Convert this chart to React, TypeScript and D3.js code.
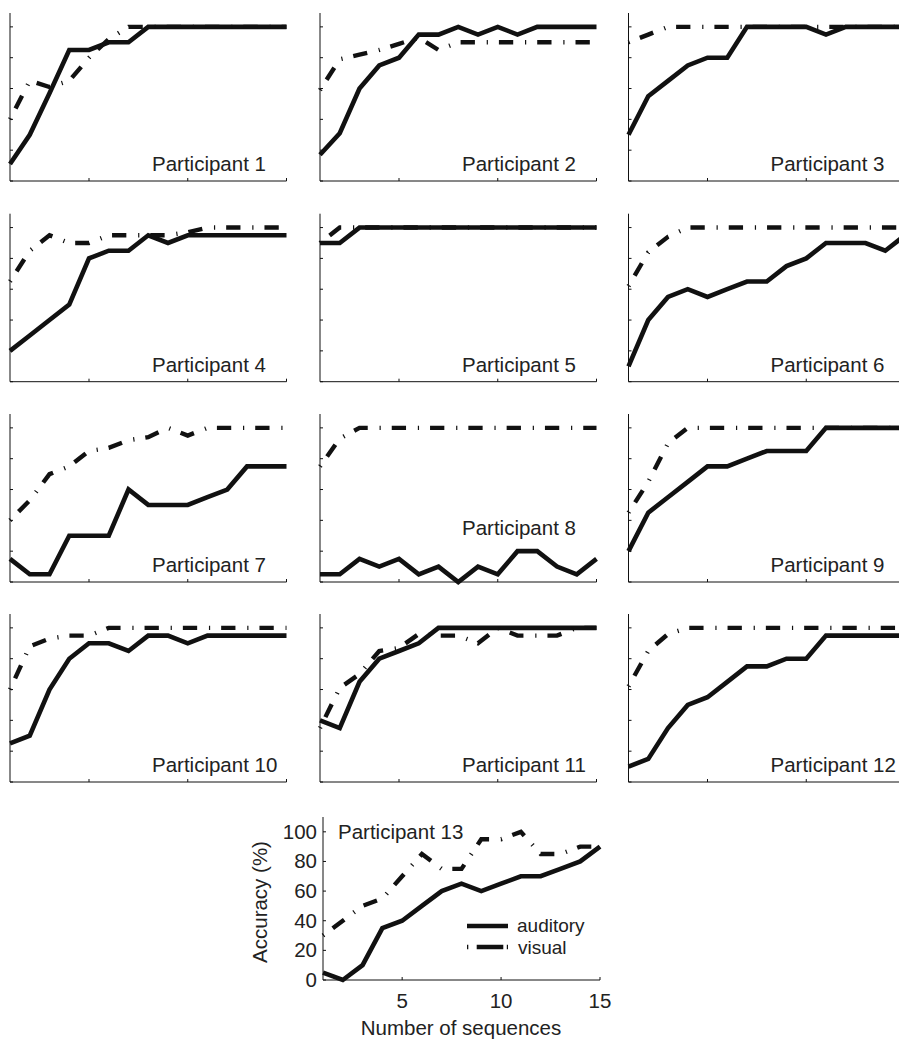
import React from 'react';
import * as d3 from 'd3';

// ---- data ----
const sequences = [1, 2, 3, 4, 5, 6, 7, 8, 9, 10, 11, 12, 13, 14, 15];
const yTicks = [0, 20, 40, 60, 80, 100];
const xTicks = [5, 10, 15];
const yTickLabels = ['0', '20', '40', '60', '80', '100'];
const xTickLabels = ['5', '10', '15'];
const seriesNames = ['auditory', 'visual'];

const p1Auditory = [11, 30, 57, 85, 85, 90, 90, 100, 100, 100, 100, 100, 100, 100, 100];
const p1Visual = [40, 65, 61, 65, 80, 92, 100, 100, 100, 100, 100, 100, 100, 100, 100];
const p2Auditory = [17, 31, 60, 75, 80, 95, 95, 100, 95, 100, 95, 100, 100, 100, 100];
const p2Visual = [59, 79, 82, 85, 89, 93, 85, 90, 90, 90, 90, 90, 90, 90, 90];
const p3Auditory = [30, 55, 65, 75, 80, 80, 100, 100, 100, 100, 95, 100, 100, 100, 100];
const p3Visual = [90, 95, 100, 100, 100, 100, 100, 100, 100, 100, 100, 100, 100, 100, 100];
const p4Auditory = [20, 30, 40, 50, 80, 85, 85, 95, 90, 95, 95, 95, 95, 95, 95];
const p4Visual = [65, 85, 95, 90, 90, 95, 95, 95, 95, 97, 100, 100, 100, 100, 100];
const p5Auditory = [90, 90, 100, 100, 100, 100, 100, 100, 100, 100, 100, 100, 100, 100, 100];
const p5Visual = [90, 100, 100, 100, 100, 100, 100, 100, 100, 100, 100, 100, 100, 100, 100];
const p6Auditory = [10, 40, 55, 60, 55, 60, 65, 65, 75, 80, 90, 90, 90, 85, 95];
const p6Visual = [62, 84, 94, 100, 100, 100, 100, 100, 100, 100, 100, 100, 100, 100, 100];
const p7Auditory = [15, 5, 5, 30, 30, 30, 60, 50, 50, 50, 55, 60, 75, 75, 75];
const p7Visual = [40, 53, 70, 75, 85, 87, 92, 94, 100, 95, 100, 100, 100, 100, 100];
const p8Auditory = [5, 5, 15, 10, 15, 5, 10, 0, 10, 5, 20, 20, 10, 5, 15];
const p8Visual = [75, 93, 100, 100, 100, 100, 100, 100, 100, 100, 100, 100, 100, 100, 100];
const p9Auditory = [20, 45, 55, 65, 75, 75, 80, 85, 85, 85, 100, 100, 100, 100, 100];
const p9Visual = [45, 65, 90, 100, 100, 100, 100, 100, 100, 100, 100, 100, 100, 100, 100];
const p10Auditory = [25, 30, 60, 80, 90, 90, 85, 95, 95, 90, 95, 95, 95, 95, 95];
const p10Visual = [60, 88, 93, 95, 95, 100, 100, 100, 100, 100, 100, 100, 100, 100, 100];
const p11Auditory = [40, 35, 65, 80, 85, 90, 100, 100, 100, 100, 100, 100, 100, 100, 100];
const p11Visual = [35, 61, 70, 85, 87, 96, 95, 95, 90, 100, 95, 95, 95, 100, 100];
const p12Auditory = [10, 15, 35, 50, 55, 65, 75, 75, 80, 80, 95, 95, 95, 95, 95];
const p12Visual = [62, 85, 96, 100, 100, 100, 100, 100, 100, 100, 100, 100, 100, 100, 100];
const p13Auditory = [5, 0, 10, 35, 40, 50, 60, 65, 60, 65, 70, 70, 75, 80, 90];
const p13Visual = [30, 40, 50, 55, 70, 85, 75, 75, 95, 95, 100, 85, 85, 90, 90];

const participantNames = [
  'Participant 1', 'Participant 2', 'Participant 3', 'Participant 4',
  'Participant 5', 'Participant 6', 'Participant 7', 'Participant 8',
  'Participant 9', 'Participant 10', 'Participant 11', 'Participant 12',
];
const auditorySeries = [p1Auditory, p2Auditory, p3Auditory, p4Auditory, p5Auditory, p6Auditory,
  p7Auditory, p8Auditory, p9Auditory, p10Auditory, p11Auditory, p12Auditory];
const visualSeries = [p1Visual, p2Visual, p3Visual, p4Visual, p5Visual, p6Visual,
  p7Visual, p8Visual, p9Visual, p10Visual, p11Visual, p12Visual];

// ---- layout / style ----
const W = 899;
const H = 1040;
const colLefts = [10, 320, 628.5];
const rowBottoms = [181, 381.7, 582, 782];
const PW = 276.5;
const PH = 168;
const FONT = '"Liberation Sans", Arial, Helvetica, sans-serif';
const FS = 20.5;
const LEGEND_FS = 19;
const INK = '#111';
const TXT = '#222';
const DASHDOT = '1.2 11 14.3 11.8';
const SOLID_W = 4.6;
const DASH_W = 4.4;

type PanelProps = {
  left: number; bottom: number; width: number; height: number; yMax: number;
  auditory: number[]; visual: number[];
};

function usePanelScales(p: PanelProps) {
  const x = d3.scaleLinear().domain([1, 15]).range([p.left, p.left + p.width]);
  const y = d3.scaleLinear().domain([0, p.yMax]).range([p.bottom, p.bottom - p.height]);
  return { x, y };
}

function Axes({ x, y, bottom, left, top, right }: any) {
  return (
    <g stroke={INK} strokeWidth={1} fill="none">
      <line x1={left} y1={top} x2={left} y2={bottom} />
      <line x1={left} y1={bottom} x2={right} y2={bottom} />
      {yTicks.map((t) => (
        <line key={'y' + t} x1={left} x2={left + 3} y1={y(t)} y2={y(t)} />
      ))}
      {xTicks.map((t) => (
        <line key={'x' + t} x1={x(t)} x2={x(t)} y1={bottom} y2={bottom - 3} />
      ))}
    </g>
  );
}

function Lines({ x, y, auditory, visual }: any) {
  const line = d3
    .line<number>()
    .x((_, i) => x(sequences[i]))
    .y((d) => y(d));
  return (
    <g fill="none" stroke={INK}>
      <path d={line(auditory) || ''} strokeWidth={SOLID_W} strokeLinejoin="miter" strokeMiterlimit={3} />
      <path d={line(visual) || ''} strokeWidth={DASH_W} strokeDasharray={DASHDOT} strokeLinejoin="miter" strokeMiterlimit={3} />
    </g>
  );
}

function SmallPanel({ idx }: { idx: number }) {
  const r = Math.floor(idx / 3);
  const c = idx % 3;
  const left = colLefts[c];
  const bottom = rowBottoms[r];
  const props: PanelProps = {
    left, bottom, width: PW, height: PH, yMax: 109,
    auditory: auditorySeries[idx], visual: visualSeries[idx],
  };
  const { x, y } = usePanelScales(props);
  const lift = idx === 7 ? 47 : 10;
  return (
    <g>
      <Axes x={x} y={y} left={left} right={left + PW} bottom={bottom} top={bottom - PH} />
      <Lines x={x} y={y} auditory={props.auditory} visual={props.visual} />
      <text x={left + 142} y={bottom - lift} fontSize={FS} fill={TXT} fontFamily={FONT}>
        {participantNames[idx]}
      </text>
    </g>
  );
}

function BigPanel() {
  const left = 323;
  const right = 600;
  const bottom = 980;
  const top = 817;
  const x = d3.scaleLinear().domain([1, 15]).range([left, right]);
  const y = d3.scaleLinear().domain([0, 110]).range([bottom, top]);
  return (
    <g>
      <Axes x={x} y={y} left={left} right={right} bottom={bottom} top={top} />
      <Lines x={x} y={y} auditory={p13Auditory} visual={p13Visual} />
      <g fontFamily={FONT} fontSize={FS} fill={TXT}>
        {yTicks.map((t, i) => (
          <text key={'yl' + t} x={left - 6} y={y(t) + 7} textAnchor="end">
            {yTickLabels[i]}
          </text>
        ))}
        {xTicks.map((t, i) => (
          <text key={'xl' + t} x={x(t)} y={bottom + 28} textAnchor="middle">
            {xTickLabels[i]}
          </text>
        ))}
        <text x={461} y={1035} textAnchor="middle">Number of sequences</text>
        <text transform="translate(267,902) rotate(-90)" textAnchor="middle">Accuracy (%)</text>
        <text x={338} y={839}>Participant 13</text>
      </g>
      <g fontFamily={FONT} fontSize={LEGEND_FS} fill={TXT}>
        <text x={517} y={932}>{seriesNames[0]}</text>
        <text x={518} y={954}>{seriesNames[1]}</text>
      </g>
      <line x1={467} x2={508} y1={926} y2={926} stroke={INK} strokeWidth={SOLID_W} />
      <line x1={467} x2={508} y1={947} y2={947} stroke={INK} strokeWidth={DASH_W}
        strokeDasharray="1.3 8.4 26.6 3.5 1.3 20" />
    </g>
  );
}

export default function App() {
  return (
    <svg
      width={W}
      height={H}
      viewBox={`0 0 ${W} ${H}`}
      style={{ position: 'absolute', left: 0, top: 0, background: '#fff' }}
    >
      <rect x={0} y={0} width={W} height={H} fill="#fff" />
      {participantNames.map((_, i) => (
        <SmallPanel key={i} idx={i} />
      ))}
      <BigPanel />
    </svg>
  );
}
